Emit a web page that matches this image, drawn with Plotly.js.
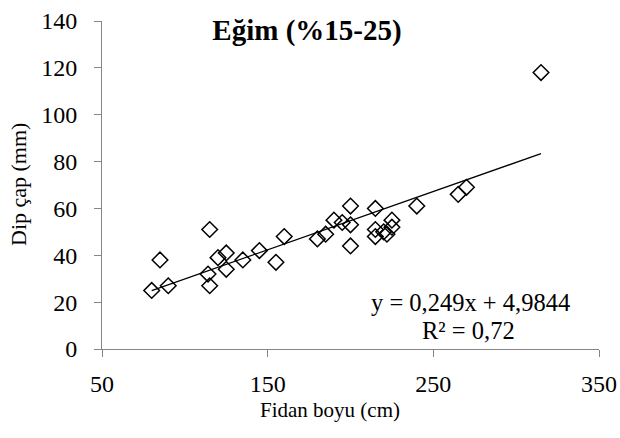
<!DOCTYPE html>
<html>
<head>
<meta charset="utf-8">
<script src="https://cdn.plot.ly/plotly-3.0.1.min.js"></script>
<style>html,body{margin:0;padding:0;background:#fff;}#chart{width:620px;height:438px;}</style>
</head>
<body>
<div id="chart"></div>
<script>
// Fidan boyu (cm)
var fidanBoyu = [80, 85, 90, 115, 114, 115, 120, 125, 125, 135, 145, 155, 160, 180, 185, 190, 195, 200, 200, 200, 215, 215, 215, 220, 222, 225, 225, 240, 265, 270, 315];
// Dip çap (mm)
var dipCap =    [25, 38, 27, 51, 32, 27, 39, 41, 34, 38, 42, 37, 48, 47, 49, 55, 54, 61, 53, 44, 60, 51, 48, 50, 49, 55, 52, 61, 66, 69, 118];
var slope = 0.249;
var intercept = 4.9844;
var equationText = "y = 0,249x + 4,9844";
var r2Text = "R² = 0,72";
var xTicks = [50, 150, 250, 350];
var yTicks = [0, 20, 40, 60, 80, 100, 120, 140];

var xMin = Math.min.apply(null, fidanBoyu);
var xMax = Math.max.apply(null, fidanBoyu);
var trendX = [xMin, xMax];
var trendY = trendX.map(function (v) { return slope * v + intercept; });

var font = "'Liberation Serif', 'Times New Roman', serif";
var L = 102, R = 599, T = 21, B = 349;
function px(xp) { return (xp - L) / (R - L); }
function py(yp) { return (B - yp) / (B - T); }

var traces = [
  {
    x: fidanBoyu, y: dipCap, type: 'scatter', mode: 'markers',
    marker: { symbol: 'diamond-open', size: 12, color: '#000', line: { color: '#000', width: 1.5 } },
    hoverinfo: 'x+y', showlegend: false
  },
  {
    x: trendX, y: trendY, type: 'scatter', mode: 'lines',
    line: { color: '#000', width: 1.3 }, hoverinfo: 'skip', showlegend: false
  }
];

var layout = {
  width: 620, height: 438,
  paper_bgcolor: '#fff', plot_bgcolor: '#fff',
  margin: { l: L, r: 620 - R, t: T, b: 438 - B },
  font: { family: font, color: '#000', size: 24 },
  title: {
    text: '<b>Eğim (%15-25)</b>',
    font: { family: font, size: 29, color: '#000' },
    x: 307 / 620, xanchor: 'center', xref: 'container',
    y: 1 - 30 / 438, yanchor: 'middle', yref: 'container'
  },
  xaxis: {
    range: [50, 350], tickvals: xTicks, ticktext: xTicks.map(String),
    showgrid: false, zeroline: false, showline: true, linecolor: '#868686', linewidth: 1,
    ticks: 'outside', ticklen: 7, tickcolor: '#868686', tickwidth: 1,
    ticklabelstandoff: 6,
    tickfont: { family: font, size: 24, color: '#000' }
  },
  yaxis: {
    range: [0, 140], tickvals: yTicks, ticktext: yTicks.map(String),
    showgrid: false, zeroline: false, showline: true, linecolor: '#868686', linewidth: 1,
    ticks: 'outside', ticklen: 7, tickcolor: '#868686', tickwidth: 1,
    ticklabelstandoff: 12,
    tickfont: { family: font, size: 24, color: '#000' }
  },
  annotations: [
    {
      text: 'Fidan boyu (cm)', xref: 'paper', yref: 'paper',
      x: px(330), y: py(410), xanchor: 'center', yanchor: 'middle', showarrow: false,
      font: { family: font, size: 21, color: '#000' }
    },
    {
      text: 'Dip çap (mm)', xref: 'paper', yref: 'paper', textangle: -90,
      x: px(18), y: py(185), xanchor: 'center', yanchor: 'middle', showarrow: false,
      font: { family: font, size: 22, color: '#000' }
    },
    {
      text: equationText, xref: 'paper', yref: 'paper', x: px(470), y: py(302),
      xanchor: 'center', yanchor: 'middle', showarrow: false, borderpad: 0,
      font: { family: font, size: 24.5, color: '#000' }
    },
    {
      text: r2Text, xref: 'paper', yref: 'paper', x: px(468), y: py(330),
      xanchor: 'center', yanchor: 'middle', showarrow: false, borderpad: 0,
      font: { family: font, size: 24.5, color: '#000' }
    }
  ]
};

Plotly.newPlot('chart', traces, layout, { displayModeBar: false, staticPlot: true });
</script>
</body>
</html>
